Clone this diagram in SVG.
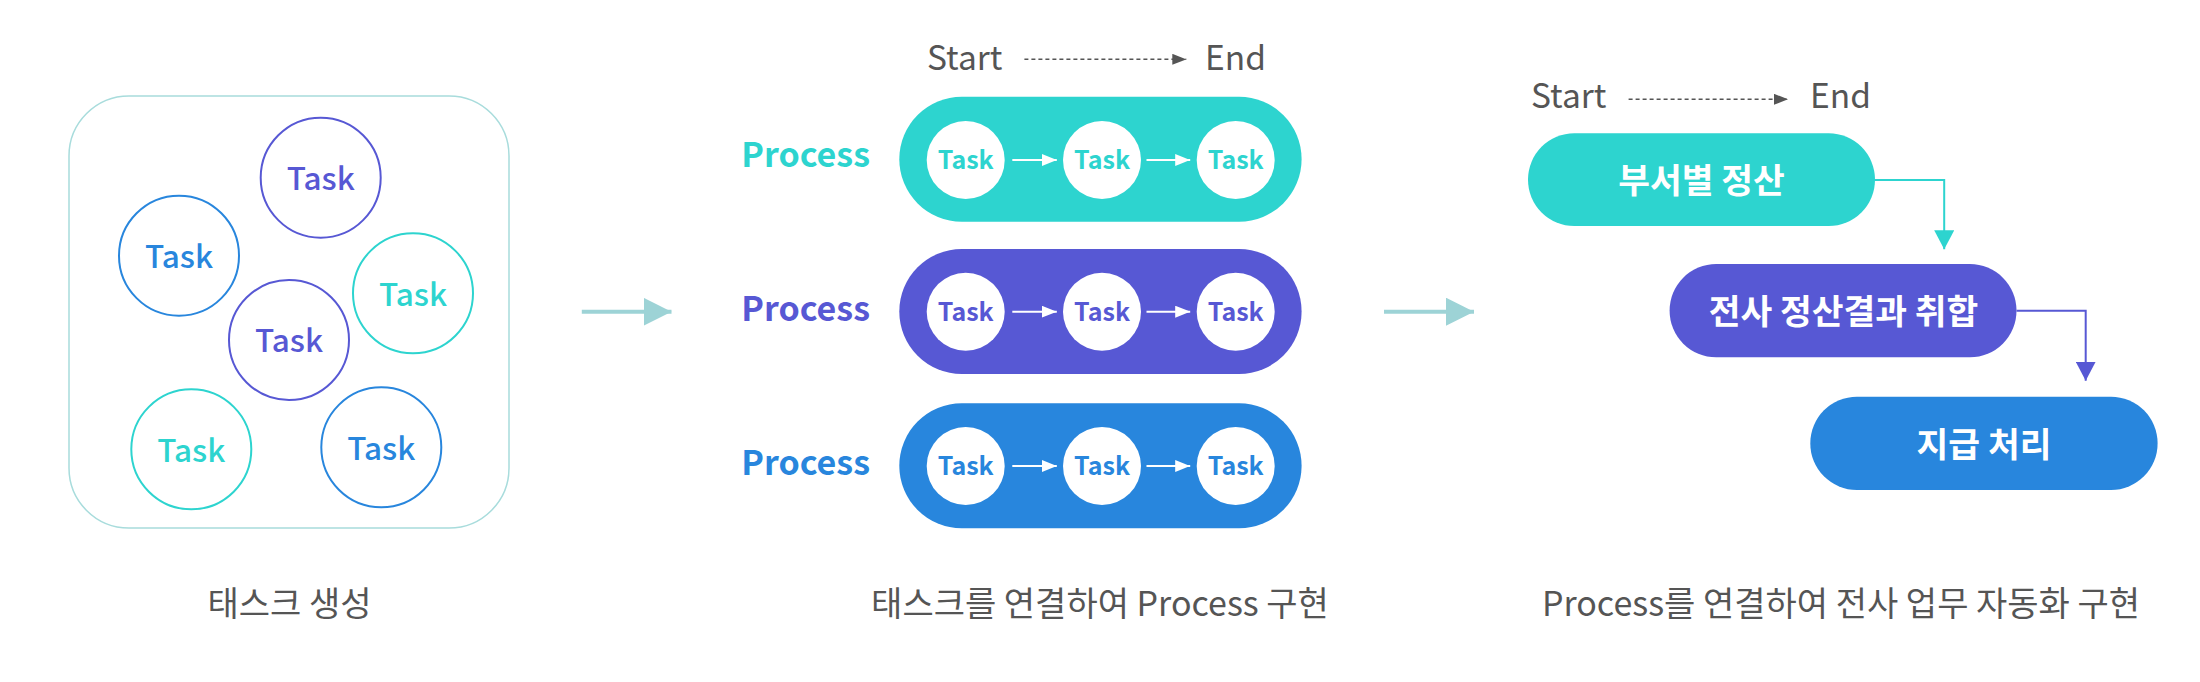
<svg xmlns="http://www.w3.org/2000/svg" width="2200" height="682" viewBox="0 0 2200 682">
<style>
text{font-family:"Noto Sans CJK KR","Noto Sans",sans-serif}
.cap{font-size:34px;fill:#555;text-anchor:middle}
.se{font-size:33.5px;fill:#555}
.tk{font-size:31.5px;font-weight:500;text-anchor:middle}
.st{font-size:25px;font-weight:700;text-anchor:middle}
.pl{font-size:34px;font-weight:700;text-anchor:end}
.pt{font-size:34.5px;font-weight:700;fill:#fff;text-anchor:middle}
.ring{fill:#fff;stroke-width:2}
.wc{fill:#fff}
.teal{fill:#2dd4cf}.purp{fill:#5758d4}.blue{fill:#2886dd}
.sTeal{stroke:#2dd4cf}.sPurp{stroke:#5758d4}.sBlue{stroke:#2886dd}
.big{stroke:#9dd3d6;stroke-width:4;fill:none}
.wa{stroke:#fff;stroke-width:2;fill:none}
.dot{stroke:#555;stroke-width:1.5;stroke-dasharray:4 3;fill:none}
.flow{stroke-width:2;fill:none}
</style>
<defs>
<marker id="mBig" markerUnits="userSpaceOnUse" markerWidth="28" markerHeight="28" refX="28" refY="14" orient="auto"><path d="M0,0 L28,14 L0,28 z" fill="#9dd3d6"/></marker>
<marker id="mWhite" markerUnits="userSpaceOnUse" markerWidth="15" markerHeight="12" refX="15" refY="6" orient="auto"><path d="M0,0 L15,6 L0,12 z" fill="#fff"/></marker>
<marker id="mDot" markerUnits="userSpaceOnUse" markerWidth="14" markerHeight="11" refX="14" refY="5.5" orient="auto"><path d="M0,0 L14,5.5 L0,11 z" fill="#555"/></marker>
<marker id="mTeal" markerUnits="userSpaceOnUse" markerWidth="19" markerHeight="20" refX="19" refY="10" orient="auto"><path d="M0,0 L19,10 L0,20 z" fill="#2dd4cf"/></marker>
<marker id="mPurp" markerUnits="userSpaceOnUse" markerWidth="19" markerHeight="20" refX="19" refY="10" orient="auto"><path d="M0,0 L19,10 L0,20 z" fill="#5758d4"/></marker>
</defs>

<g id="task-pool">
<rect x="69" y="96" width="440" height="432" rx="60" ry="60" fill="#fff" stroke="#a8dcdc" stroke-width="1.5"/>
<g id="pool-task-1"><circle class="ring sPurp" cx="320.7" cy="177.7" r="60"/><text class="tk purp" x="320.7" y="189.5">Task</text></g>
<g id="pool-task-2"><circle class="ring sBlue" cx="179" cy="255.7" r="60"/><text class="tk blue" x="179" y="267.5">Task</text></g>
<g id="pool-task-3"><circle class="ring sTeal" cx="413" cy="293.3" r="60"/><text class="tk teal" x="413" y="305.5">Task</text></g>
<g id="pool-task-4"><circle class="ring sPurp" cx="289" cy="340" r="60"/><text class="tk purp" x="289" y="351.5">Task</text></g>
<g id="pool-task-5"><circle class="ring sTeal" cx="191.3" cy="449.3" r="60"/><text class="tk teal" x="191.3" y="461.5">Task</text></g>
<g id="pool-task-6"><circle class="ring sBlue" cx="381.3" cy="447.3" r="60"/><text class="tk blue" x="381.3" y="459.5">Task</text></g>
</g>

<g id="legend-1"><text class="se" x="927" y="70">Start</text><text class="se" x="1205" y="70">End</text></g>
<g id="legend-2"><text class="se" x="1531" y="108.3">Start</text><text class="se" x="1810" y="108.3">End</text></g>

<g id="process-1">
<text class="pl teal" x="870" y="166.7">Process</text>
<rect class="teal" x="899.3" y="96.7" width="402.3" height="125" rx="62.5"/>
<circle class="wc" cx="965.7" cy="160" r="39"/><text class="st teal" x="965.7" y="169">Task</text>
<circle class="wc" cx="1102" cy="160" r="39"/><text class="st teal" x="1102" y="169">Task</text>
<circle class="wc" cx="1235.7" cy="160" r="39"/><text class="st teal" x="1235.7" y="169">Task</text>
</g>
<g id="process-2">
<text class="pl purp" x="870" y="320.7">Process</text>
<rect class="purp" x="899.3" y="249" width="402.3" height="125" rx="62.5"/>
<circle class="wc" cx="965.7" cy="311.7" r="39"/><text class="st purp" x="965.7" y="320.7">Task</text>
<circle class="wc" cx="1102" cy="311.7" r="39"/><text class="st purp" x="1102" y="320.7">Task</text>
<circle class="wc" cx="1235.7" cy="311.7" r="39"/><text class="st purp" x="1235.7" y="320.7">Task</text>
</g>
<g id="process-3">
<text class="pl blue" x="870" y="475">Process</text>
<rect class="blue" x="899.3" y="403.3" width="402.3" height="125" rx="62.5"/>
<circle class="wc" cx="965.7" cy="466" r="39"/><text class="st blue" x="965.7" y="475">Task</text>
<circle class="wc" cx="1102" cy="466" r="39"/><text class="st blue" x="1102" y="475">Task</text>
<circle class="wc" cx="1235.7" cy="466" r="39"/><text class="st blue" x="1235.7" y="475">Task</text>
</g>

<g id="step-1"><rect class="teal" x="1528" y="133.3" width="347" height="92.7" rx="46.3"/><text class="pt" x="1701.5" y="193">부서별 정산</text></g>
<g id="step-2"><rect class="purp" x="1669.6" y="264" width="346.9" height="93.3" rx="46.6"/><text class="pt" x="1843.5" y="324">전사 정산결과 취합</text></g>
<g id="step-3"><rect class="blue" x="1810.3" y="396.7" width="347.3" height="93.3" rx="46.6"/><text class="pt" x="1984" y="456.5">지급 처리</text></g>

<g id="captions">
<text class="cap" x="289.5" y="616">태스크 생성</text>
<text class="cap" x="1100" y="616">태스크를 연결하여 Process 구현</text>
<text class="cap" x="1841" y="616">Process를 연결하여 전사 업무 자동화 구현</text>
</g>

<g id="connectors">
<line class="big" x1="581.8" y1="311.7" x2="671.5" y2="311.7" marker-end="url(#mBig)"/>
<line class="big" x1="1384" y1="311.7" x2="1474" y2="311.7" marker-end="url(#mBig)"/>
<line class="dot" x1="1024.4" y1="59.3" x2="1186.3" y2="59.3" marker-end="url(#mDot)"/>
<line class="dot" x1="1628.6" y1="99.3" x2="1788" y2="99.3" marker-end="url(#mDot)"/>
<line class="wa" x1="1012.3" y1="160" x2="1056.8" y2="160" marker-end="url(#mWhite)"/>
<line class="wa" x1="1146.5" y1="160" x2="1190.2" y2="160" marker-end="url(#mWhite)"/>
<line class="wa" x1="1012.3" y1="311.7" x2="1056.8" y2="311.7" marker-end="url(#mWhite)"/>
<line class="wa" x1="1146.5" y1="311.7" x2="1190.2" y2="311.7" marker-end="url(#mWhite)"/>
<line class="wa" x1="1012.3" y1="466" x2="1056.8" y2="466" marker-end="url(#mWhite)"/>
<line class="wa" x1="1146.5" y1="466" x2="1190.2" y2="466" marker-end="url(#mWhite)"/>
<polyline class="flow sTeal" points="1875,180 1944.2,180 1944.2,249.3" marker-end="url(#mTeal)"/>
<polyline class="flow sPurp" points="2016.5,310.7 2085.7,310.7 2085.7,380.7" marker-end="url(#mPurp)"/>
</g>
</svg>
